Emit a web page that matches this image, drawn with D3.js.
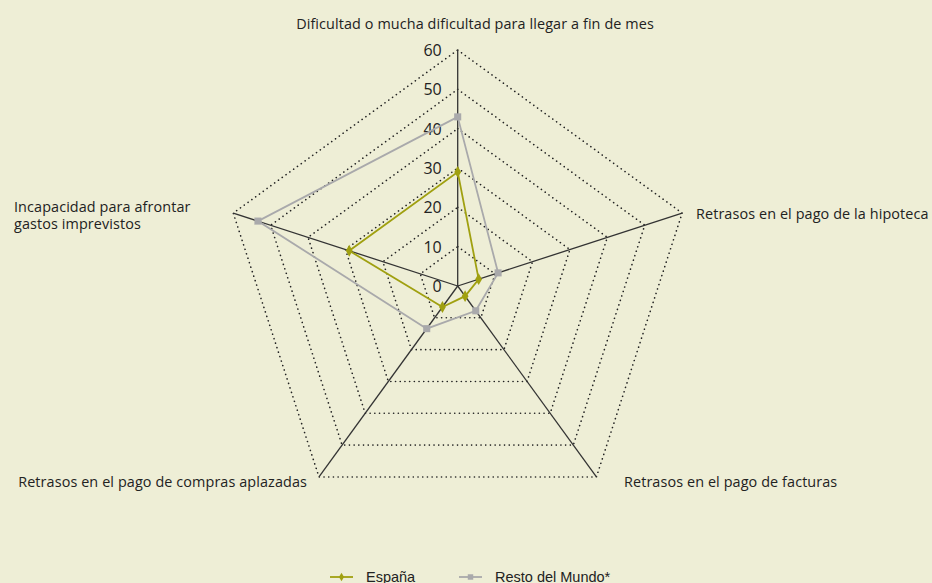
<!DOCTYPE html>
<html><head><meta charset="utf-8">
<script src="https://cdn.jsdelivr.net/npm/d3@7"></script>
<style>
html,body{margin:0;padding:0;background:#eeeed6;}
svg{display:block;}
text{font-family:"Open Sans","Noto Sans",sans-serif;fill:#222;}
</style></head>
<body>
<svg id="c" width="932" height="583"></svg>
<script>
const categories = [
  "Dificultad o mucha dificultad para llegar a fin de mes",
  "Retrasos en el pago de la hipoteca",
  "Retrasos en el pago de facturas",
  "Retrasos en el pago de compras aplazadas",
  "Incapacidad para afrontar gastos imprevistos"
];
const espana = [29, 5.6, 3.2, 6.6, 29];
const restoMundo = [43, 10.8, 7.8, 13.4, 53.4];
const tickValues = [0, 10, 20, 30, 40, 50, 60];
const seriesNames = ["España", "Resto del Mundo*"];

const svg = d3.select("#c");
const cx = 457.7, cy = 286;
const r = d3.scaleLinear().domain([0, 60]).range([0, 236]);
const ang = d3.scaleLinear().domain([0, categories.length]).range([0, 2 * Math.PI]);
const pt = (i, v) => [cx + r(v) * Math.sin(ang(i)), cy - r(v) * Math.cos(ang(i))];

// grid pentagons
const gridG = svg.append("g");
tickValues.filter(t => t > 0).forEach(t => {
  gridG.append("path")
    .attr("d", d3.line()(categories.map((c, i) => pt(i, t))) + "Z")
    .attr("fill", "none").attr("stroke", "#222").attr("stroke-width", 1.6)
    .attr("stroke-dasharray", "0.1,4.6").attr("stroke-linecap", "round");
});
// axes
categories.forEach((c, i) => {
  const p = pt(i, 60);
  svg.append("line").attr("x1", cx).attr("y1", cy).attr("x2", p[0]).attr("y2", p[1])
    .attr("stroke", "#333").attr("stroke-width", 1.3);
});
// tick labels
tickValues.forEach(t => {
  svg.append("text").attr("x", cx - 16).attr("y", cy - r(t) + 6)
    .attr("text-anchor", "end").attr("font-size", 16).text(t);
});

// category labels
const lab = svg.append("g").attr("font-size", 14.4).attr("letter-spacing", 0.1);
lab.append("text").attr("x", 475).attr("y", 29).attr("text-anchor", "middle").text(categories[0]);
lab.append("text").attr("x", 696).attr("y", 219).text(categories[1]);
lab.append("text").attr("x", 624).attr("y", 487).text(categories[2]);
lab.append("text").attr("x", 307).attr("y", 487).attr("text-anchor", "end").text(categories[3]);
const t4 = lab.append("text").attr("x", 14).attr("y", 212);
t4.append("tspan").attr("x", 14).text("Incapacidad para afrontar");
t4.append("tspan").attr("x", 14).attr("dy", 17).text("gastos imprevistos");

// series
const series = [
  {vals: restoMundo, color: "#a9a9ab", marker: "square"},
  {vals: espana, color: "#a0a010", marker: "diamond"}
];
series.forEach(s => {
  const pts = s.vals.map((v, i) => pt(i, v));
  svg.append("path").attr("d", d3.line()(pts) + "Z")
    .attr("fill", "none").attr("stroke", s.color).attr("stroke-width", 1.8);
  svg.selectAll(null).data(pts).enter().append("path")
    .attr("transform", d => `translate(${d[0]},${d[1]})`)
    .attr("d", d3.symbol().type(s.marker === "square" ? d3.symbolSquare : d3.symbolDiamond).size(s.marker === "square" ? 50 : 40))
    .attr("fill", s.color);
});

// legend
const leg = svg.append("g");
const legItems = [
  {name: seriesNames[0], color: "#a0a010", x: 330, marker: d3.symbolDiamond, size: 22},
  {name: seriesNames[1], color: "#a9a9ab", x: 459, marker: d3.symbolSquare, size: 30}
];
legItems.forEach(l => {
  leg.append("line").attr("x1", l.x).attr("x2", l.x + 23).attr("y1", 577).attr("y2", 577)
    .attr("stroke", l.color).attr("stroke-width", 1.8);
  leg.append("path").attr("transform", `translate(${l.x + 11.5},577)`)
    .attr("d", d3.symbol().type(l.marker).size(l.size)).attr("fill", l.color);
  leg.append("text").attr("x", l.x + 36).attr("y", 582).attr("font-size", 14.5)
    .style("font-family", "'Liberation Sans',Arial,sans-serif").text(l.name);
});
</script>
</body></html>
